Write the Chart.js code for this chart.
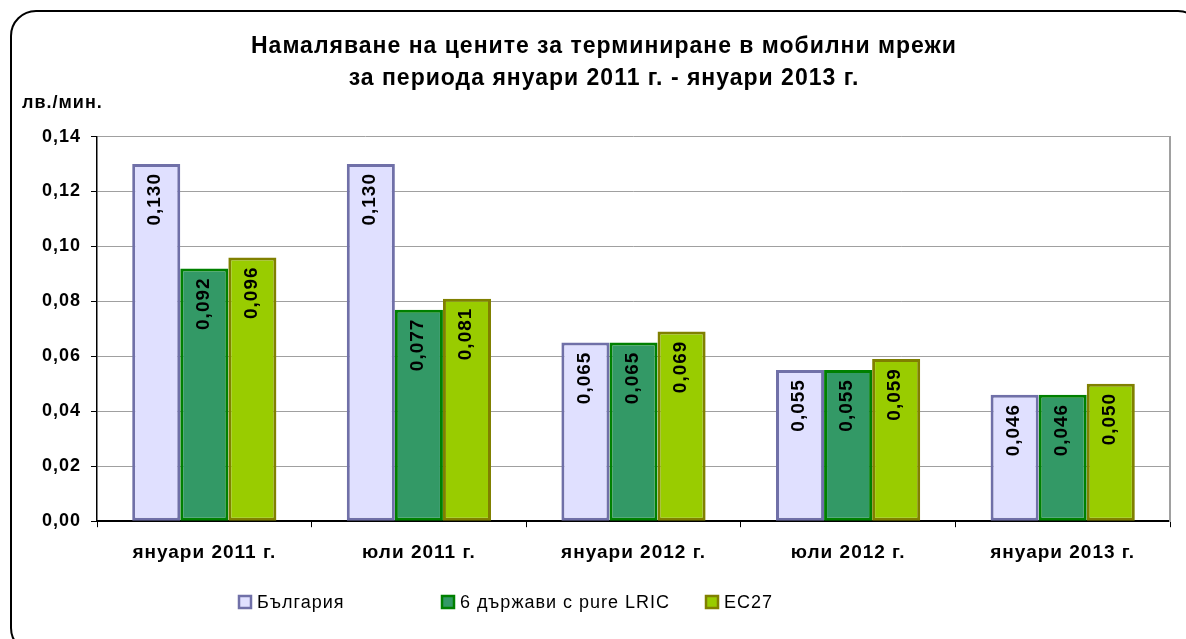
<!DOCTYPE html>
<html>
<head>
<meta charset="utf-8">
<script src="https://cdn.jsdelivr.net/npm/chart.js@4"></script>
<style>
  body { margin: 0; background: #fff; overflow: hidden; }
  #wrap { position: relative; width: 1186px; height: 639px; }
  #frame { position: absolute; left: 10px; top: 10px; width: 1190px; height: 640px;
           border: 2px solid #000; border-radius: 26px; pointer-events: none; }
</style>
</head>
<body>
<div id="wrap">
  <canvas id="myChart" width="1186" height="639"></canvas>
  <div id="frame"></div>
</div>
<script>
// data
const periods = ['януари 2011 г.', 'юли 2011 г.', 'януари 2012 г.', 'юли 2012 г.', 'януари 2013 г.'];
const bulgaria = [0.130, 0.130, 0.065, 0.055, 0.046];
const pureLric = [0.092, 0.077, 0.065, 0.055, 0.046];
const ec27 = [0.096, 0.081, 0.069, 0.059, 0.050];
const seriesNames = ['България', '6 държави с pure LRIC', 'ЕС27'];
const yTicks = [0, 0.02, 0.04, 0.06, 0.08, 0.10, 0.12, 0.14];

const fmt = (v, d) => v.toFixed(d).replace('.', ',');

// excel text looks a bit spread out
const spacing = {
    id: 'spacing',
    beforeDraw(chart) { chart.ctx.letterSpacing = '1px'; }
};

// rotated value labels inside the top of each bar
const barLabels = {
    id: 'barLabels',
    afterDatasetsDraw(chart) {
        const ctx = chart.ctx;
        chart.data.datasets.forEach((ds, i) => {
            chart.getDatasetMeta(i).data.forEach((bar, j) => {
                ctx.save();
                ctx.translate(bar.x - 1, bar.y + 9);
                ctx.rotate(-Math.PI / 2);
                ctx.font = 'bold 19px "Liberation Sans", Arial, sans-serif';
                ctx.fillStyle = '#000';
                ctx.textAlign = 'right';
                ctx.textBaseline = 'middle';
                ctx.fillText(fmt(ds.data[j], 3), 0, 0);
                ctx.restore();
            });
        });
    }
};

// legend row like the excel one (uneven spacing)
const legendRow = {
    id: 'legendRow',
    afterDraw(chart, args, opts) {
        const ctx = chart.ctx;
        ctx.save();
        ctx.font = '18px "Liberation Sans", Arial, sans-serif';
        ctx.textBaseline = 'middle';
        chart.data.datasets.forEach((ds, i) => {
            const x = opts.xs[i];
            const y = opts.y;
            ctx.fillStyle = ds.backgroundColor;
            ctx.fillRect(x, y - 6, 12, 12);
            ctx.strokeStyle = ds.borderColor;
            ctx.lineWidth = 2.5;
            ctx.strokeRect(x, y - 6, 12, 12);
            ctx.fillStyle = '#000';
            ctx.fillText(ds.label, x + 18, y + 1);
        });
        ctx.restore();
    }
};

const ctx = document.getElementById('myChart');
const myChart = new Chart(ctx, {
    type: 'bar',
    data: {
        labels: periods,
        datasets: [
            { label: seriesNames[0], data: bulgaria, backgroundColor: '#E0E0FF', borderColor: '#7070A8' },
            { label: seriesNames[1], data: pureLric, backgroundColor: '#339966', borderColor: '#008000' },
            { label: seriesNames[2], data: ec27, backgroundColor: '#99CC00', borderColor: '#808000' }
        ]
    },
    options: {
        responsive: false,
        animation: false,
        datasets: {
            bar: {
                borderWidth: 3,
                borderSkipped: false,
                barPercentage: 1,
                categoryPercentage: 0.672
            }
        },
        layout: { padding: { left: 22, right: 0, top: 0, bottom: 61 } },
        scales: {
            x: {
                grid: { drawOnChartArea: false, tickLength: 6, tickColor: '#000', lineWidth: 1 },
                border: { color: '#000', width: 2 },
                ticks: {
                    color: '#000',
                    padding: 14,
                    maxRotation: 0,
                    font: { family: '"Liberation Sans", Arial, sans-serif', size: 19, weight: 'bold' }
                }
            },
            y: {
                min: 0,
                max: 0.14,
                afterFit(scale) { scale.width = 75; },
                afterBuildTicks(scale) { scale.ticks = yTicks.map(v => ({ value: v })); },
                grid: { color: '#A0A0A0', tickColor: '#000', tickLength: 6, lineWidth: 1 },
                border: { color: '#000', width: 1.5 },
                ticks: {
                    color: '#000',
                    padding: 10,
                    callback: v => fmt(v, 2),
                    font: { family: '"Liberation Sans", Arial, sans-serif', size: 18, weight: 'bold' }
                }
            },
            y2: {
                position: 'right',
                min: 0,
                max: 0.14,
                afterFit(scale) { scale.width = 16; },
                grid: { drawOnChartArea: false, drawTicks: false },
                border: { color: '#A0A0A0', width: 2 },
                ticks: { display: false }
            }
        },
        plugins: {
            title: {
                display: true,
                text: ['Намаляване на цените за терминиране в мобилни мрежи',
                       'за периода януари 2011 г. - януари 2013 г.'],
                color: '#000',
                font: { family: '"Liberation Sans", Arial, sans-serif', size: 23, weight: 'bold', lineHeight: 1.39 },
                padding: { top: 31, bottom: -3 }
            },
            subtitle: {
                display: true,
                text: 'лв./мин.',
                align: 'start',
                color: '#000',
                font: { family: '"Liberation Sans", Arial, sans-serif', size: 18, weight: 'bold', lineHeight: 1.2 },
                padding: { top: 0, bottom: 23 }
            },
            legend: { display: false },
            tooltip: { enabled: false },
            legendRow: { xs: [239, 442, 706], y: 602 }
        }
    },
    plugins: [spacing, barLabels, legendRow]
});
</script>
</body>
</html>
